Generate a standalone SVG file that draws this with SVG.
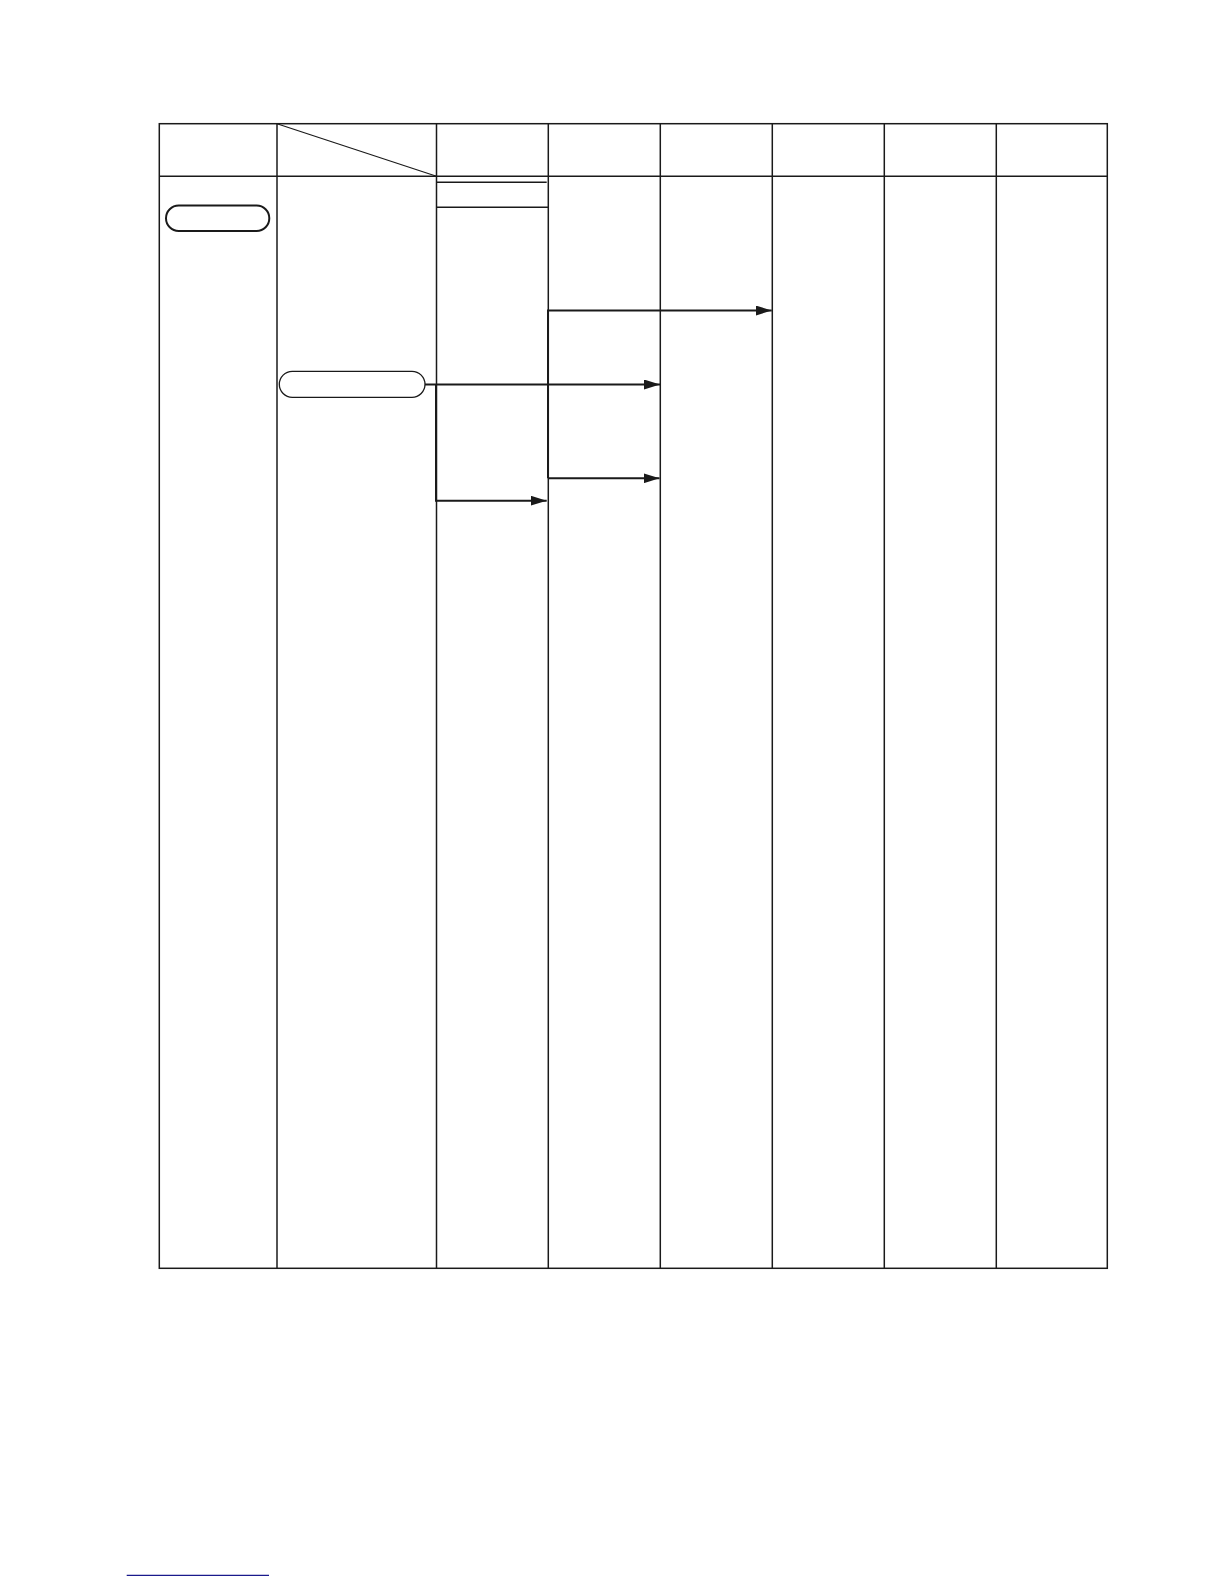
<svg xmlns="http://www.w3.org/2000/svg" width="1224" height="1584" viewBox="0 0 1224 1584">
<style>
.grid{stroke:#1a1a1a;stroke-width:1.5;fill:none}
.thin{stroke:#1a1a1a;stroke-width:1.2;fill:none}
.conn{stroke:#1a1a1a;stroke-width:2;fill:none}
.pill{fill:#ffffff;stroke:#1a1a1a}
</style>
<defs>
<marker id="ah" markerWidth="16" markerHeight="10" refX="16" refY="5" orient="auto" markerUnits="userSpaceOnUse">
<path d="M0,0 L16,5 L0,10 Z" fill="#1a1a1a"/>
</marker>
</defs>
<rect width="1224" height="1584" fill="#ffffff"/>
<g id="table">
<rect class="grid" x="159.3" y="123.7" width="948" height="1144.6"/>
<line class="grid" x1="159.3" y1="176.3" x2="1107.3" y2="176.3"/>
<line class="grid" x1="277" y1="123.7" x2="277" y2="1268.3"/>
<line class="grid" x1="436.5" y1="123.7" x2="436.5" y2="1268.3"/>
<line class="grid" x1="548.3" y1="123.7" x2="548.3" y2="1268.3"/>
<line class="grid" x1="660.3" y1="123.7" x2="660.3" y2="1268.3"/>
<line class="grid" x1="772.3" y1="123.7" x2="772.3" y2="1268.3"/>
<line class="grid" x1="884.3" y1="123.7" x2="884.3" y2="1268.3"/>
<line class="grid" x1="996.3" y1="123.7" x2="996.3" y2="1268.3"/>
<line class="thin" x1="277" y1="123.7" x2="436.5" y2="176.3"/>
<line class="grid" x1="436.5" y1="182.3" x2="546.7" y2="182.3"/>
<line class="grid" x1="436.5" y1="207.3" x2="548.3" y2="207.3"/>
</g>
<g id="node1">
<rect class="pill" x="166" y="205.5" width="103.3" height="25.5" rx="12.7" style="stroke-width:2"/>
</g>
<g id="node2">
<rect class="pill" x="279.3" y="371.3" width="145.7" height="26" rx="13" style="stroke-width:1.3"/>
</g>
<g id="connectors">
<path class="conn" d="M425,384.5 L660,384.5" marker-end="url(#ah)"/>
<path class="conn" d="M436,384.5 L436,500.7 L546.7,500.7" marker-end="url(#ah)"/>
<path class="conn" d="M548,478.3 L548,310.5 L771.7,310.5" marker-end="url(#ah)"/>
<path class="conn" d="M548,478.3 L659.5,478.3" marker-end="url(#ah)"/>
</g>
<line x1="126.7" y1="1575.3" x2="269" y2="1575.3" stroke="#1a1a8c" stroke-width="1.3"/>
</svg>
